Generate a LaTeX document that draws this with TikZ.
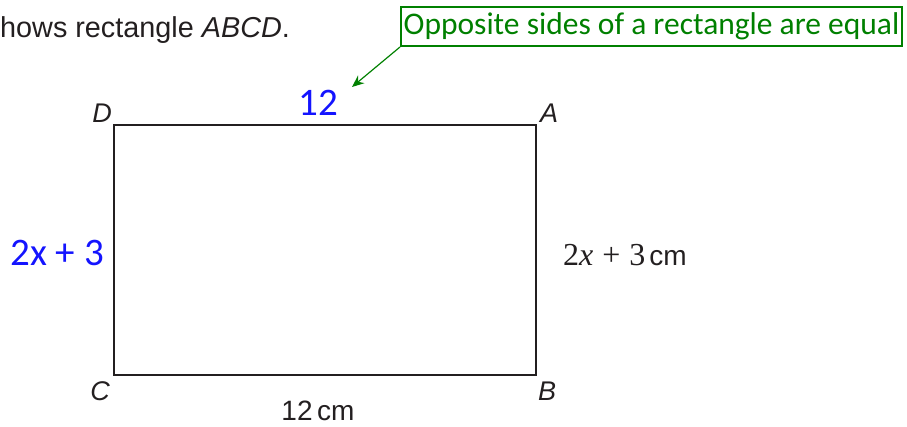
\documentclass[tikz,border=0pt]{standalone}
\usepackage{fontspec}
\setmainfont{Liberation Sans}
\newfontfamily\hand{Carlito}
\newfontfamily\tnr{Liberation Serif}
\usetikzlibrary{arrows.meta}
\definecolor{edge}{HTML}{231F20}
\definecolor{annblue}{RGB}{20,20,255}
\definecolor{anngreen}{RGB}{0,128,0}
\begin{document}
\begin{tikzpicture}[x=1pt,y=-1pt,
  lbl/.style={inner sep=0pt, font=\fontsize{27}{30}\selectfont\itshape, text=edge},
  dim/.style={inner sep=0pt, font=\fontsize{28}{32}\selectfont, text=edge},
  blueann/.style={inner sep=0pt, font=\hand\fontsize{39}{44}\selectfont, text=annblue},
  greenbox/.style={draw=anngreen, line width=2pt, text=anngreen, font=\hand\fontsize{31.5}{34}\selectfont, minimum width=501pt, minimum height=39pt, inner sep=0pt},
  gline/.style={draw=anngreen, line width=1.2pt, -{Stealth[length=12pt,width=10pt]}}]
\useasboundingbox (0,0) rectangle (907,426);
\node[dim, anchor=base west, font=\fontsize{28.8}{32}\selectfont] (title) at (0,37) {hows rectangle \textit{ABCD}.};
\coordinate (D) at (114,125);
\coordinate (A) at (536,125);
\coordinate (B) at (536,375);
\coordinate (C) at (114,375);
\draw[edge, line width=2.5pt, line join=miter] (D) -- (A) -- (B) -- (C) -- cycle;
\node[lbl, anchor=base east] (lD) at (112,122) {D};
\node[lbl, anchor=base west] (lA) at (540,122) {A};
\node[lbl, anchor=base east] (lC) at (110,400) {C};
\node[lbl, anchor=base west] (lB) at (538,400) {B};
\node[dim, anchor=base] (bottom) at (318,420) {12\,cm};
\node[dim, anchor=base west] (right) at (563,265) {{\tnr\fontsize{32}{36}\selectfont 2\textit{x}\hspace{9pt}+\hspace{9pt}3}\hspace{4pt}cm};
\node[blueann, anchor=base] (b12) at (318,115) {12};
\node[blueann, anchor=base east] (bside) at (104,265) {2x + 3};
\node[greenbox] (note) at (651.5,26.5) {Opposite sides of a rectangle are equal};
\coordinate (tip) at (352,87);
\draw[gline] (note.south west) -- (tip);
\end{tikzpicture}
\end{document}
